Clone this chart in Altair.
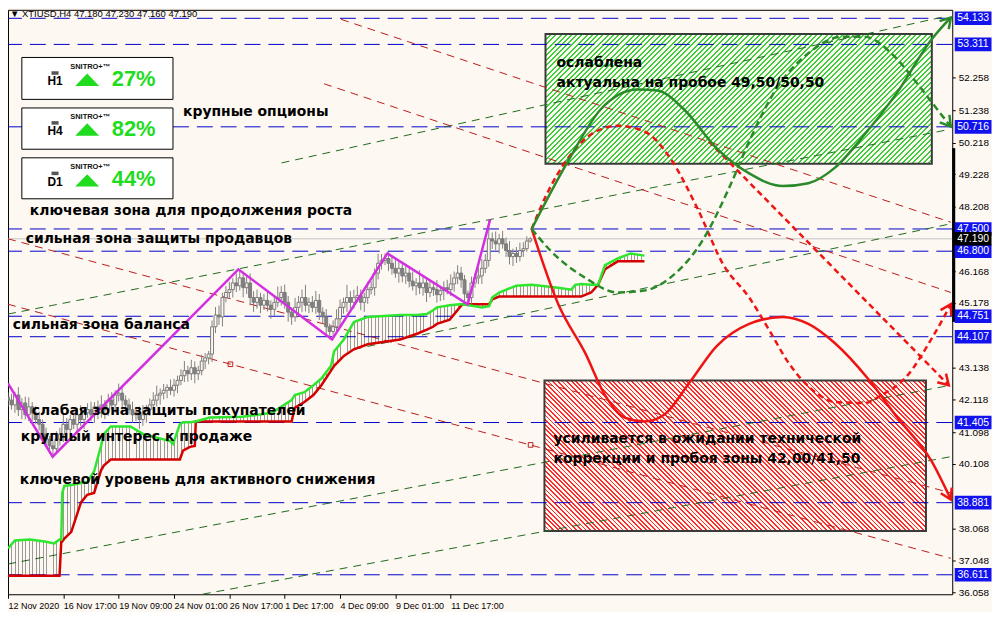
import json
import math
import altair as alt
import pandas as pd

# ---------------- layout / scales ----------------
W, H = 950, 588
X_DOMAIN = [0, 273]          # H4 bar index
Y_DOMAIN = [35.997, 54.40]   # price
BG = "#FEF8F2"
SX = W / (X_DOMAIN[1] - X_DOMAIN[0])
SY = H / (Y_DOMAIN[1] - Y_DOMAIN[0])
xs = alt.Scale(domain=X_DOMAIN, nice=False, zero=False)
ys = alt.Scale(domain=Y_DOMAIN, nice=False, zero=False)

# ---------------- data ----------------
x_tick_bars = [0, 16, 32, 48, 64, 80, 96, 112, 128]
x_labels = ["12 Nov 2020", "16 Nov 17:00", "19 Nov 09:00", "24 Nov 01:00", "26 Nov 17:00",
            "1 Dec 17:00", "4 Dec 09:00", "9 Dec 01:00", "11 Dec 17:00"]
y_ticks = [36.058, 37.048, 38.068, 40.108, 41.098, 42.118, 43.138, 45.178, 46.168,
           48.208, 49.228, 50.218, 51.238, 52.258]

first_open = 42.20
close = [
    42.11, 41.96, 42.27, 41.81, 42.02, 41.65, 41.90, 41.71, 41.50, 41.35,
    41.04, 40.88, 40.67, 40.58, 40.88, 41.04, 41.35, 41.19, 41.50, 41.35,
    41.65, 41.50, 41.71, 41.81, 41.65, 41.90, 41.71, 41.96, 41.81, 42.11,
    41.96, 42.27, 42.33, 42.11, 41.96, 41.81, 41.65, 41.71, 41.50, 41.65,
    41.81, 41.96, 42.11, 42.27, 42.33, 42.42, 42.51, 42.42, 42.58, 42.73,
    42.88, 43.04, 42.94, 43.13, 42.94, 43.04, 43.34, 43.44, 43.56, 44.42,
    44.79, 44.73, 45.34, 45.50, 45.59, 45.80, 45.71, 45.96, 45.65, 45.80,
    45.34, 45.19, 45.34, 45.10, 45.25, 45.10, 44.97, 45.19, 45.34, 45.50,
    45.19, 44.88, 44.73, 45.03, 45.19, 45.34, 45.10, 45.19, 45.03, 45.25,
    44.88, 44.73, 44.42, 44.27, 44.42, 44.67, 45.03, 45.19, 45.34, 45.19,
    45.34, 45.40, 45.19, 45.34, 45.59, 45.65, 46.11, 46.42, 46.51, 46.57,
    46.42, 46.26, 46.11, 46.26, 46.02, 46.11, 45.86, 45.71, 45.80, 45.65,
    45.80, 45.50, 45.65, 45.59, 45.43, 45.56, 45.65, 45.59, 45.77, 45.96,
    46.11, 45.90, 45.46, 45.34, 45.80, 45.96, 46.02, 46.26, 46.51, 47.19,
    47.12, 47.03, 47.19, 47.03, 46.82, 46.63, 46.73, 46.63, 46.82, 46.88,
    47.12, 47.19]
wick_up = [
    .15, .2, .1, .25, .15, .2, .3, .15, .2, .25,
    .15, .2, .1, .15, .25, .2, .3, .2, .15, .25,
    .2, .3, .15, .2, .25, .15, .2, .3, .15, .2,
    .25, .15, .3, .2, .15, .2, .25, .15, .2, .3,
    .15, .2, .25, .3, .15, .2, .1, .25, .2, .15,
    .2, .3, .15, .25, .2, .15, .2, .15, .1, .2,
    .25, .3, .15, .2, .25, .15, .3, .27, .2, .25,
    .3, .2, .25, .15, .2, .3, .15, .2, .35, .2,
    .25, .2, .15, .3, .2, .25, .4, .15, .2, .3,
    .2, .15, .25, .1, .2, .3, .25, .15, .4, .2,
    .25, .3, .2, .15, .25, .2, .15, .3, .2, .16,
    .2, .25, .3, .2, .15, .25, .2, .3, .15, .4,
    .2, .15, .25, .2, .3, .15, .2, .25, .3, .2,
    .25, .2, .15, .1, .2, .15, .25, .3, .2, .61,
    .2, .3, .15, .25, .2, .3, .15, .2, .25, .2,
    .15, .05]
wick_dn = [
    .2, .15, .25, .2, .3, .15, .2, .25, .15, .2,
    .3, .2, .25, .25, .15, .2, .25, .3, .2, .15,
    .25, .2, .3, .15, .2, .25, .2, .15, .3, .2,
    .15, .25, .2, .3, .2, .15, .25, .2, .3, .2,
    .25, .2, .15, .2, .3, .2, .25, .15, .2, .25,
    .15, .2, .25, .2, .3, .2, .15, .25, .2, .25,
    .2, .25, .3, .15, .2, .25, .2, .15, .3, .2,
    .25, .3, .2, .25, .15, .2, .3, .2, .15, .25,
    .2, .3, .25, .15, .2, .3, .2, .25, .15, .2,
    .25, .2, .3, .25, .2, .15, .25, .2, .3, .2,
    .2, .15, .25, .3, .2, .15, .25, .2, .2, .15,
    .25, .2, .15, .3, .2, .25, .2, .15, .3, .2,
    .25, .3, .15, .2, .25, .2, .3, .15, .2, .25,
    .2, .25, .3, .21, .2, .15, .2, .25, .15, .2,
    .25, .2, .3, .15, .2, .25, .3, .2, .15, .2,
    .1, .05]

kumo_bar = [0, 2.0, 6.3, 10.6, 13.4, 14.9, 15.4, 15.7, 16.3, 18.3,
            21.1, 22.9, 24.9, 26.9, 27.7, 29.7, 35.4, 39.1, 46.9, 47.7,
            49.7, 50.6, 52.6, 54.0, 54.3, 58.3, 67.7, 76.3, 82.0, 82.9,
            85.7, 88.3, 90.6, 93.4, 94.3, 97.1, 100.0, 104.0, 113.4, 118.3,
            121.1, 122.9, 124.0, 127.7, 130.6, 131.4, 137.1, 139.1, 140.0, 142.0,
            146.9, 151.4, 159.1, 162.9, 164.0, 165.7, 168.6, 170.6, 172.6, 176.3,
            180.0, 184.0]
span_a = [37.44, 37.69, 37.72, 37.66, 37.60, 37.72, 37.72, 39.19, 39.41, 39.44,
          39.50, 39.53, 39.87, 40.67, 41.04, 41.28, 41.28, 41.04, 40.82, 40.73,
          41.35, 41.41, 41.41, 41.44, 41.44, 41.56, 41.59, 41.71, 42.11, 42.27,
          42.36, 42.58, 42.79, 43.19, 43.65, 44.02, 44.57, 44.73, 44.79, 44.79,
          44.82, 44.94, 45.03, 45.10, 45.13, 45.13, 45.03, 45.07, 45.34, 45.50,
          45.71, 45.74, 45.65, 45.59, 45.74, 45.77, 45.74, 45.74, 46.36, 46.57,
          46.73, 46.66]
span_b = [36.58, 36.58, 36.58, 36.58, 36.58, 36.58, 37.66, 37.66, 37.75, 37.96,
          38.89, 39.13, 39.19, 39.90, 40.05, 40.24, 40.24, 40.24, 40.24, 40.24,
          40.24, 40.52, 40.64, 40.67, 41.44, 41.44, 41.44, 41.44, 41.44, 41.87,
          42.05, 42.27, 42.58, 43.04, 43.19, 43.50, 43.71, 43.87, 44.02, 44.20,
          44.33, 44.42, 44.51, 44.64, 45.03, 45.13, 45.13, 45.13, 45.28, 45.37,
          45.37, 45.37, 45.37, 45.37, 45.37, 45.37, 45.50, 45.74, 46.23, 46.48,
          46.48, 46.48]

zz_bar = [0, 12.9, 66.6, 93.7, 109.7, 132.9, 139.4]
zz_price = [42.64, 40.33, 46.23, 44.02, 46.73, 45.13, 47.80]

level_prices = [54.133, 53.311, 50.716, 47.500, 46.800, 44.751, 44.107, 41.405, 38.881, 36.611]
last_price = 47.190

# channel trend lines: (bar1, price1, bar2, price2)
green_trend = [(79.1, 49.58, 271.4, 54.20), (0, 44.82, 272, 50.63), (100.0, 43.71, 272, 47.65),
               (0, 36.95, 272.6, 42.58), (56.3, 36.00, 272.6, 40.33)]
red_trend = [(96.3, 54.10, 272.6, 47.71), (91.4, 52.07, 272.6, 45.50),
             (0, 47.19, 272.6, 39.19), (0, 45.13, 272.6, 37.13)]
anchor_bar = [64.3, 151.1]
anchor_price = [43.24, 40.70]

# projected scenarios
gs_bar = [151.4, 162.0, 171.4, 182.0, 187.7, 195.4, 204.9, 214.3, 224.0, 231.4, 239.1, 247.7, 257.1, 266.9, 272.6]
gs_price = [47.50, 49.65, 51.27, 51.89, 51.86, 51.27, 50.04, 49.25, 48.85, 48.94, 49.43, 50.48, 51.80, 53.45, 54.16]
gd_bar = [151.4, 157.1, 166.9, 176.3, 184.0, 191.4, 201.1, 208.6, 214.3, 222.0, 231.4, 241.1, 247.7, 255.4, 262.0, 267.7, 272.6]
gd_price = [47.50, 46.79, 45.96, 45.50, 45.56, 45.96, 47.19, 48.82, 50.26, 51.89, 53.03, 53.55, 53.55, 53.03, 52.20, 51.40, 50.72]
rd_bar = [151.4, 155.4, 162.0, 168.6, 176.3, 184.0, 191.4, 199.1, 206.9, 214.3, 220.0, 225.7, 233.4, 239.1, 247.7, 252.6, 260.0, 266.9, 272.6]
rd_price = [47.50, 48.51, 49.74, 50.48, 50.75, 50.57, 49.74, 48.20, 46.36, 45.34, 44.33, 43.28, 42.36, 42.05, 42.02, 42.27, 42.88, 44.02, 45.13]
rs_bar = [202.6, 272.0]
rs_price = [50.26, 42.58]
rr_bar = [151.4, 159.1, 166.9, 172.6, 178.3, 184.0, 189.7, 197.1, 204.9, 214.3, 224.0, 231.4, 239.1, 248.6, 257.1, 266.9, 272.6]
rr_price = [47.50, 45.13, 43.59, 42.27, 41.56, 41.44, 41.65, 42.67, 43.81, 44.51, 44.73, 44.51, 43.90, 42.79, 41.56, 40.21, 38.98]

green_zone = (155.4, 267.1, 49.55, 53.64)
red_zone = (155.1, 265.4, 37.99, 42.73)

notes = [
    ("крупные опционы", 50.6, 51.18),
    ("ключевая зона для продолжения роста", 6.3, 48.05),
    ("сильная зона защиты продавцов", 5.1, 47.19),
    ("сильная зона баланса", 1.4, 44.48),
    ("слабая зона защиты покупателей", 6.9, 41.78),
    ("крупный интерес к продаже", 3.7, 40.95),
    ("ключевой уровень для активного снижения", 3.4, 39.59),
    ("ослаблена", 158.6, 52.72),
    ("актуальна на пробое 49,50/50,50", 158.6, 52.10),
    ("усиливается в ожидании технической", 157.7, 40.88),
    ("коррекции и пробоя зоны 42,00/41,50", 157.7, 40.24),
]
header = "▼ XTIUSD,H4  47.180 47.230 47.160 47.190"

# SNITRO panels
panel_tf = ["H1", "H4", "D1"]
panel_pct = ["27%", "82%", "44%"]
panel_top = [52.90, 51.31, 49.74]
panel_bot = [51.58, 50.01, 48.45]
panel_icon_p = [52.41, 50.84, 49.25]
panel_tf_p = [52.15, 50.58, 48.98]
panel_brand_p = [52.60, 51.03, 49.46]
panel_tri_p = [52.20, 50.63, 49.03]
panel_pct_p = [52.23, 50.66, 49.06]

axis_box_prices = [54.133, 53.311, 50.716, 47.500, 46.800, 44.751, 44.107, 41.405, 38.881, 36.611]
market_bar_range = (50.045, 44.573)

# ---------------- helpers ----------------
def X(field="bar", axis=alt.Undefined):
    return alt.X(f"{field}:Q", scale=xs, axis=axis)


def Y(field="price", axis=alt.Undefined):
    return alt.Y(f"{field}:Q", scale=ys, axis=axis)


def _stripes(n, color, frac):
    clear = "rgba(255,255,255,0)"
    stops = []
    for i in range(n):
        t0, t1, t2 = i / n, (i + frac) / n, (i + 1) / n
        stops += [{"offset": round(t0, 6), "color": color}, {"offset": round(t1, 6), "color": color},
                  {"offset": round(t1, 6), "color": clear}, {"offset": round(t2, 6), "color": clear}]
    return stops


def hatch(wpx, hpx, color, period, frac, direction):
    k = (wpx + hpx) / (wpx ** 2 + hpx ** 2)
    if direction == "/":
        x1, y1, x2, y2 = 0, 0, wpx * k, hpx * k
    else:
        x1, y1, x2, y2 = 0, 1, wpx * k, 1 - hpx * k
    n = int(round((wpx + hpx) / math.sqrt(2) / period))
    return {"gradient": "linear", "x1": x1, "y1": y1, "x2": x2, "y2": y2,
            "stops": _stripes(n, color, frac)}


def vstripes(n, color, frac):
    return {"gradient": "linear", "x1": 0, "y1": 0, "x2": 1, "y2": 0, "stops": _stripes(n, color, frac)}


def arrow_angle(bars, prices):
    dx = (bars[-1] - bars[-2]) * SX
    dy = -(prices[-1] - prices[-2]) * SY
    return math.degrees(math.atan2(dy, dx)) % 360


# ---------------- layers ----------------
layers = []

XAXIS = alt.Axis(values=x_tick_bars, labelExpr=f"{json.dumps(x_labels)}[round(datum.value/16)]",
                 labelAlign="left", labelOverlap=False, labelFlush=False, labelFont="Liberation Sans",
                 labelFontSize=9, labelColor="#000", tickColor="#000", tickSize=4, domain=False,
                 grid=False, title=None, labelPadding=3)
YAXIS = alt.Axis(orient="right", values=y_ticks, format=".3f", labelFont="Liberation Sans",
                 labelFontSize=10, labelColor="#000", tickColor="#000", tickSize=3, domain=False,
                 grid=False, title=None, labelPadding=3, labelOverlap=False, labelFlush=False)

# candles data
rows = []
prev = first_open
for i, c in enumerate(close):
    o = prev
    rows.append({"bar": i, "o": o, "c": c,
                 "hi": max(o, c) + wick_up[i], "lo": min(o, c) - wick_dn[i]})
    prev = c
candles = pd.DataFrame(rows)

# first layer carries both axes (invisible)
layers.append(alt.Chart(candles).mark_rule(opacity=0).encode(
    x=X("bar", XAXIS), y=Y("lo", YAXIS), y2="hi:Q"))

# hatched zones
for (b0, b1, p0, p1), col, d, per in [(green_zone, "#3ccf3c", "/", 3.7), (red_zone, "#ff2a2a", "\\", 3.3)]:
    g = hatch((b1 - b0) * SX, (p1 - p0) * SY, col, per, 0.38, d)
    dfz = pd.DataFrame({"b0": [b0], "b1": [b1], "p0": [p0], "p1": [p1]})
    layers.append(alt.Chart(dfz).mark_rect(fill=g, stroke="#3a3a3a", strokeWidth=2).encode(
        x=X("b0"), x2="b1:Q", y=Y("p0"), y2="p1:Q"))

# horizontal levels
layers.append(alt.Chart(pd.DataFrame({"price": level_prices})).mark_rule(
    color="#0000C8", strokeWidth=1, strokeDash=[16, 8]).encode(y=Y("price")))
layers.append(alt.Chart(pd.DataFrame({"price": [last_price]})).mark_rule(
    color="#C4C4C4", strokeWidth=1).encode(y=Y("price")))

# trend channels
for lines, col in [(green_trend, "#1d6b1d"), (red_trend, "#b81c1c")]:
    rws = []
    for i, (b1, p1, b2, p2) in enumerate(lines):
        rws += [{"name": i, "bar": b1, "price": p1}, {"name": i, "bar": b2, "price": p2}]
    layers.append(alt.Chart(pd.DataFrame(rws)).mark_line(
        color=col, strokeWidth=1, strokeDash=[8, 6], clip=True).encode(
        x=X(), y=Y(), detail="name:N"))
layers.append(alt.Chart(pd.DataFrame({"bar": anchor_bar, "price": anchor_price})).mark_point(
    shape="square", filled=False, size=22, color="#c02020", strokeWidth=1, opacity=1).encode(x=X(), y=Y()))

# ichimoku cloud
kumo = pd.DataFrame({"bar": kumo_bar, "a": span_a, "b": span_b})
n_str = int(round((kumo_bar[-1] - kumo_bar[0])))
layers.append(alt.Chart(kumo).mark_area(fill=vstripes(n_str, "rgba(0,0,0,0.38)", 0.28), clip=True).encode(
    x=X(), y=Y("a"), y2="b:Q"))
layers.append(alt.Chart(kumo).mark_line(color="#d40000", strokeWidth=2.5).encode(x=X(), y=Y("b")))
layers.append(alt.Chart(kumo).mark_line(color="#2ee62e", strokeWidth=2.5).encode(x=X(), y=Y("a")))

# candles
layers.append(alt.Chart(candles).mark_rule(color="#808080", strokeWidth=1).encode(
    x=X("bar"), y=Y("lo"), y2="hi:Q"))
layers.append(alt.Chart(candles).transform_calculate(
    b0="datum.bar - 0.42", b1="datum.bar + 0.42",
    fc=f"datum.c >= datum.o ? '{BG}' : '#808080'").mark_rect(
    stroke="#7a7a7a", strokeWidth=1).encode(
    x=X("b0"), x2="b1:Q", y=Y("o"), y2="c:Q", fill=alt.Fill("fc:N", scale=None)))

# zigzag
layers.append(alt.Chart(pd.DataFrame({"bar": zz_bar, "price": zz_price})).mark_line(
    color="#d22fe0", strokeWidth=2.5).encode(x=X(), y=Y()))

# projections
CHEV = "M -1 -0.6 L 0 0 L -1 0.6"
heads = []
for bars, prices, col, dash, interp in [
        (rr_bar, rr_price, "#ee1414", None, "monotone"),
        (rs_bar, rs_price, "#ee1414", [6, 4], "linear"),
        (rd_bar, rd_price, "#ee1414", [6, 4], "monotone"),
        (gd_bar, gd_price, "#2a8a2a", [7, 4], "monotone"),
        (gs_bar, gs_price, "#2a8a2a", None, "monotone")]:
    kw = dict(color=col, strokeWidth=2.5, interpolate=interp)
    if dash:
        kw["strokeDash"] = dash
    layers.append(alt.Chart(pd.DataFrame({"bar": bars, "price": prices})).mark_line(**kw).encode(
        x=X(), y=Y()))
    heads.append({"bar": bars[-1], "price": prices[-1], "angle": arrow_angle(bars, prices), "col": col})
layers.append(alt.Chart(pd.DataFrame(heads)).mark_point(
    shape=CHEV, filled=False, size=420, strokeWidth=2.5, opacity=1).encode(
    x=X(), y=Y(), angle=alt.Angle("angle:Q", scale=None), color=alt.Color("col:N", scale=None)))

# notes
layers.append(alt.Chart(pd.DataFrame(notes, columns=["text", "bar", "price"])).mark_text(
    align="left", baseline="middle", font="DejaVu Sans", fontSize=14, fontWeight="bold",
    color="#000").encode(x=X(), y=Y(), text="text:N"))
layers.append(alt.Chart(pd.DataFrame({"text": [header], "bar": [0.6], "price": [54.27]})).mark_text(
    align="left", baseline="middle", font="Liberation Sans", fontSize=9.5, color="#000").encode(
    x=X(), y=Y(), text="text:N"))

# SNITRO panels
pan = pd.DataFrame({"tf": panel_tf, "pct": panel_pct, "top": panel_top, "bot": panel_bot,
                    "icon": panel_icon_p, "tfp": panel_tf_p, "brand": panel_brand_p,
                    "tri": panel_tri_p, "pctp": panel_pct_p})
pan["b0"], pan["b1"] = 4.0, 47.7
pan["bi"], pan["bb"], pan["bt"], pan["bp"] = 13.6, 18.0, 22.9, 30.0
pan["brand_t"] = "SNITRO+™"
layers.append(alt.Chart(pan).mark_rect(fill="#ffffff", stroke="#000", strokeWidth=1).encode(
    x=X("b0"), x2="b1:Q", y=Y("top"), y2="bot:Q"))
layers.append(alt.Chart(pan).mark_point(shape="M -1 -0.5 L 1 -0.5 L 1 0.5 L -1 0.5 Z", filled=True,
                                        size=50, color="#555", opacity=1).encode(x=X("bi"), y=Y("icon")))
layers.append(alt.Chart(pan).mark_text(font="Liberation Sans", fontSize=12, fontWeight="bold",
                                       color="#000", baseline="middle").encode(
    x=X("bi"), y=Y("tfp"), text="tf:N"))
layers.append(alt.Chart(pan).mark_text(font="Liberation Sans", fontSize=7.5, fontWeight="bold",
                                       color="#111", align="left", baseline="middle").encode(
    x=X("bb"), y=Y("brand"), text="brand_t:N"))
layers.append(alt.Chart(pan).mark_point(shape="M -1 0.52 L 1 0.52 L 0 -0.52 Z", filled=True,
                                        size=576, color="#1fdc1f", opacity=1).encode(x=X("bt"), y=Y("tri")))
layers.append(alt.Chart(pan).mark_text(font="Liberation Sans", fontSize=22, fontWeight="bold",
                                       color="#1fdc1f", align="left", baseline="middle").encode(
    x=X("bp"), y=Y("pctp"), text="pct:N"))

# price scale decorations
layers.append(alt.Chart(pd.DataFrame({"p0": [market_bar_range[0]], "p1": [market_bar_range[1]]})).mark_rule(
    color="#000", strokeWidth=3).encode(x=alt.value(W + 1.5), y=Y("p0"), y2="p1:Q"))
boxes = pd.DataFrame({"price": axis_box_prices + [last_price],
                      "col": ["#1212ee"] * len(axis_box_prices) + ["#000000"]})
boxes["label"] = boxes["price"].map(lambda v: f"{v:.3f}")
BOX = "M -1 -0.37 L 1 -0.37 L 1 0.37 L -1 0.37 Z"
layers.append(alt.Chart(boxes).mark_point(shape=BOX, filled=True, size=37 * 37, opacity=1).encode(
    x=alt.value(W + 21), y=Y(), color=alt.Color("col:N", scale=None)))
layers.append(alt.Chart(boxes).mark_text(font="Liberation Sans", fontSize=10.5, color="#ffffff",
                                         baseline="middle").encode(
    x=alt.value(W + 21), y=Y(), text="label:N"))

chart = alt.layer(*layers).properties(
    width=W, height=H, background=BG,
    padding={"left": 0, "top": 0, "right": 40, "bottom": 16},
    autosize=alt.AutoSizeParams(type="none"),
).configure_view(stroke="#000", strokeWidth=1)

chart.save("out.html", embed_options={"renderer": "svg", "actions": False})
